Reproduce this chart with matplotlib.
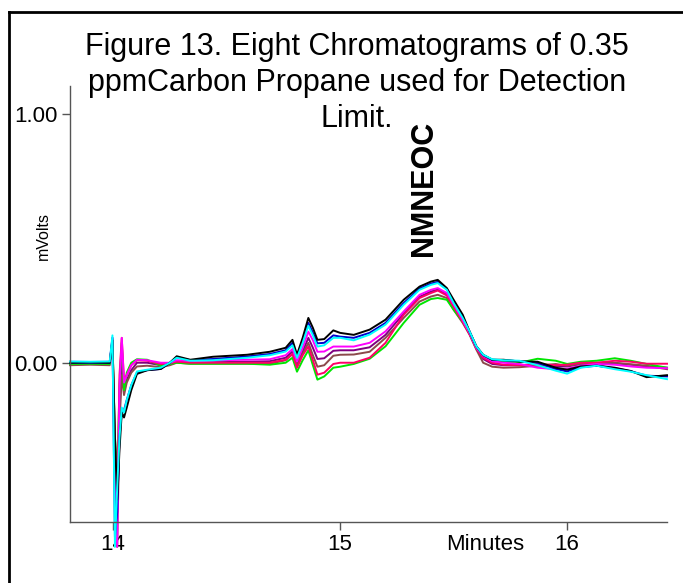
import matplotlib
matplotlib.use("Agg")
import matplotlib.pyplot as plt
from matplotlib.lines import Line2D

plt.rcParams['font.family'] = ['Liberation Sans', 'DejaVu Sans']

# ---- data ----
minutes = [13.81, 13.90, 13.985, 13.997, 14.008, 14.018, 14.028, 14.038, 14.048, 14.06,
           14.08, 14.105, 14.15, 14.21, 14.25, 14.28, 14.34, 14.44, 14.59, 14.69,
           14.76, 14.79, 14.81, 14.835, 14.86, 14.88, 14.90, 14.93, 14.97, 15.00,
           15.06, 15.13, 15.20, 15.28, 15.35, 15.40, 15.43, 15.47, 15.50, 15.54,
           15.57, 15.60, 15.63, 15.67, 15.72, 15.79, 15.87, 15.95, 16.00, 16.06,
           16.13, 16.21, 16.28, 16.35, 16.44]

run_black = [0.0, 0.002, 0.0, 0.09, -0.3, -0.55, -0.35, -0.2, -0.22, -0.18,
             -0.11, -0.045, -0.03, -0.025, 0.0, 0.026, 0.012, 0.024, 0.032, 0.044,
             0.06, 0.092, 0.032, 0.1, 0.18, 0.14, 0.092, 0.095, 0.13, 0.12,
             0.112, 0.133, 0.173, 0.253, 0.306, 0.326, 0.333, 0.30, 0.253, 0.193,
             0.126, 0.066, 0.032, 0.012, 0.012, 0.005, 0.004, -0.02, -0.028, -0.015,
             -0.012, -0.02, -0.033, -0.058, -0.05]
run_blue = [0.0, 0.0, 0.0, 0.1, -0.7, -0.6, -0.3, -0.2, -0.19, -0.15,
            -0.09, -0.04, -0.03, -0.025, 0.0, 0.022, 0.01, 0.015, 0.025, 0.035,
            0.05, 0.08, 0.025, 0.09, 0.16, 0.12, 0.078, 0.08, 0.11, 0.105,
            0.1, 0.12, 0.16, 0.24, 0.298, 0.318, 0.325, 0.296, 0.245, 0.185,
            0.126, 0.066, 0.03, 0.012, 0.01, 0.006, 0.0, -0.025, -0.035, -0.018,
            -0.012, -0.022, -0.034, -0.052, -0.055]
run_cyan = [0.005, 0.004, 0.005, 0.11, -0.74, -0.5, -0.3, -0.18, -0.2, -0.15,
            -0.09, -0.035, -0.028, -0.02, 0.0, 0.02, 0.008, 0.01, 0.02, 0.03,
            0.045, 0.07, 0.02, 0.08, 0.149, 0.11, 0.065, 0.07, 0.1, 0.1,
            0.09, 0.113, 0.153, 0.233, 0.293, 0.313, 0.32, 0.293, 0.24, 0.18,
            0.126, 0.066, 0.032, 0.014, 0.01, 0.008, -0.01, -0.032, -0.044, -0.02,
            -0.012, -0.026, -0.036, -0.05, -0.066]
run_magenta = [0.004, 0.003, 0.004, 0.1, -0.5, -0.74, -0.1, 0.1, -0.08, -0.05,
               -0.01, 0.012, 0.01, 0.0, 0.0, 0.01, 0.008, 0.01, 0.012, 0.014,
               0.03, 0.055, 0.005, 0.06, 0.125, 0.09, 0.044, 0.045, 0.065, 0.065,
               0.065, 0.08, 0.126, 0.206, 0.273, 0.293, 0.3, 0.28, 0.235, 0.172,
               0.12, 0.06, 0.028, 0.006, 0.0, -0.005, -0.02, -0.026, -0.024, -0.012,
               -0.005, -0.008, -0.015, -0.02, -0.022]
run_red = [0.002, 0.002, 0.002, 0.09, -0.3, -0.6, -0.05, 0.1, -0.07, -0.05,
           -0.01, 0.01, 0.008, -0.005, -0.002, 0.004, 0.0, 0.0, 0.0, 0.0,
           0.012, 0.035, -0.02, 0.03, 0.065, 0.01, -0.048, -0.04, -0.005, 0.0,
           0.0, 0.02, 0.08, 0.193, 0.26, 0.28, 0.29, 0.27, 0.225, 0.165,
           0.115, 0.058, 0.02, 0.0, -0.008, -0.01, -0.005, -0.01, -0.008, 0.0,
           0.0, 0.008, 0.004, -0.004, -0.004]
run_brown = [-0.01, -0.008, -0.01, 0.08, -0.4, -0.74, -0.25, -0.05, -0.13, -0.08,
             -0.04, -0.015, -0.012, -0.018, -0.01, 0.0, -0.004, -0.004, -0.004, -0.004,
             0.01, 0.035, -0.01, 0.035, 0.08, 0.03, -0.016, -0.01, 0.028, 0.032,
             0.033, 0.044, 0.1, 0.18, 0.246, 0.266, 0.273, 0.26, 0.213, 0.16,
             0.113, 0.053, 0.0, -0.016, -0.02, -0.018, -0.012, -0.005, -0.012, -0.005,
             0.0, 0.0, -0.006, -0.012, -0.026]
run_green = [-0.005, -0.004, -0.005, 0.09, -0.3, -0.45, -0.1, 0.08, -0.11, -0.04,
             0.0, 0.014, 0.012, -0.012, -0.005, 0.0, -0.004, -0.004, -0.004, -0.008,
             0.0, 0.02, -0.036, 0.01, 0.05, -0.01, -0.068, -0.055, -0.02, -0.016,
             -0.005, 0.016, 0.066, 0.16, 0.233, 0.256, 0.26, 0.253, 0.213, 0.165,
             0.12, 0.06, 0.025, 0.005, 0.004, 0.0, 0.016, 0.008, -0.005, 0.004,
             0.008, 0.018, 0.008, -0.005, -0.02]
run_purple = [0.0, 0.0, 0.0, 0.09, -0.4, -0.6, -0.2, 0.0, -0.1, -0.07,
              -0.03, 0.0, 0.0, -0.01, -0.005, 0.004, 0.0, 0.002, 0.004, 0.006,
              0.02, 0.045, -0.005, 0.045, 0.1, 0.06, 0.015, 0.018, 0.048, 0.05,
              0.05, 0.062, 0.112, 0.198, 0.265, 0.286, 0.294, 0.275, 0.228, 0.168,
              0.118, 0.058, 0.015, -0.005, -0.01, -0.01, -0.01, -0.015, -0.015, -0.006,
              -0.004, -0.002, -0.008, -0.015, -0.02]

x_ticks = [14, 15, 16]
x_tick_labels = ['14', '15', '16']
y_ticks = [0.0, 1.0]
y_tick_labels = ['0.00', '1.00']
peak_label = 'NMNEOC'
peak_time = 15.368
title_lines = ['Figure 13. Eight Chromatograms of 0.35',
               'ppmCarbon Propane used for Detection',
               'Limit.']

# ---- figure ----
W, H = 683, 583
fig = plt.figure(figsize=(W / 100, H / 100), dpi=100)

# outer frame (left and top edges visible)
fig.add_artist(Line2D([9 / W, 9 / W], [0, 1 - 12 / H], transform=fig.transFigure,
                      color='black', lw=2))
fig.add_artist(Line2D([9 / W, 1], [1 - 12 / H, 1 - 12 / H], transform=fig.transFigure,
                      color='black', lw=2))

ax = fig.add_axes([70 / W, 1 - 522 / H, (667 - 70) / W, (522 - 86) / H])
series = [
    (run_purple, '#800080'),
    (run_brown, '#8b4a4a'),
    (run_green, '#00e600'),
    (run_red, '#ff0066'),
    (run_magenta, '#ff00ff'),
    (run_blue, '#0000cc'),
    (run_black, '#000000'),
    (run_cyan, '#00ffff'),
]
for vals, col in series:
    ax.plot(minutes, vals, color=col, lw=1.4, clip_on=False)

ax.set_xlim(13.81, 16.44)
ax.set_ylim(-0.64, 1.112)
for s in ['top', 'right']:
    ax.spines[s].set_visible(False)
for s in ['left', 'bottom']:
    ax.spines[s].set_color('#555555')
    ax.spines[s].set_linewidth(1.0)
ax.set_xticks(x_ticks)
ax.set_xticklabels(x_tick_labels)
ax.set_yticks(y_ticks)
ax.set_yticklabels(y_tick_labels)
ax.tick_params(direction='out', length=6, width=1, color='#555555',
               labelsize=16, pad=3)

ax.annotate('Minutes', xy=(15.64, 0), xycoords=('data', 'axes fraction'),
            xytext=(0, -9), textcoords='offset points', ha='center', va='top',
            fontsize=16)

ax.text(peak_time, 0.70, peak_label, rotation=90, ha='center', va='center',
        fontsize=22, fontweight='bold')

fig.text(43 / W, 1 - 236 / H, 'mVolts', rotation=90, ha='center', va='center',
         fontsize=11.5)

# title lines, placed by baseline
baselines = [55, 91, 127]
for line, yb in zip(title_lines, baselines):
    fig.text(357 / W, 1 - yb / H, line, ha='center', va='baseline', fontsize=22)

fig.savefig('out.png', dpi=100)
